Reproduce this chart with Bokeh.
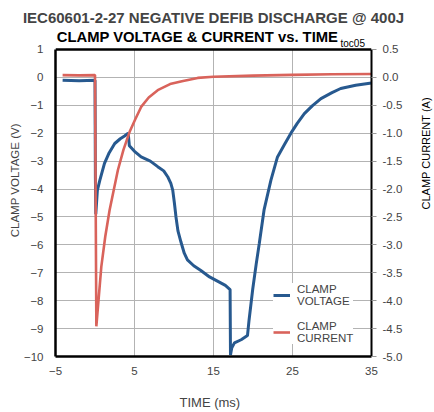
import math
from bokeh.plotting import figure
from bokeh.layouts import row
from bokeh.models import (Range1d, LinearAxis, Label, Legend, LegendItem, FixedTicker,
                          Span, BoxAnnotation)
from bokeh.embed import file_html
from bokeh.resources import INLINE

# ---- data ----
time_v = [-4.1, -2.0, 0.0, 0.05, 0.1, 0.3, 0.6, 1.2, 1.8, 2.5, 3.2, 3.74, 4.2, 4.35,
          5.0, 5.84, 7.0, 7.94, 8.7, 9.2, 9.6, 9.84, 10.05, 10.25, 10.5, 10.88, 11.3,
          11.7, 12.5, 13.4, 14.5, 15.5, 16.5, 17.1, 17.15, 17.3, 17.65, 18.5, 19.3,
          19.5, 19.96, 20.4, 20.8, 21.4, 22.27, 23.1, 24.0, 24.8, 25.6, 26.5, 27.5,
          28.6, 30.0, 31.1, 33.0, 35.0]
clamp_voltage = [-0.1, -0.12, -0.1, -3.6, -4.9, -4.05, -3.7, -3.08, -2.7, -2.37, -2.2,
                 -2.1, -2.0, -2.45, -2.65, -2.85, -3.0, -3.2, -3.35, -3.56, -3.8, -4.04,
                 -4.5, -5.0, -5.5, -5.9, -6.3, -6.54, -6.75, -6.92, -7.15, -7.3, -7.45,
                 -7.6, -9.95, -9.7, -9.51, -9.4, -9.25, -8.7, -7.6, -6.7, -5.94, -4.75,
                 -3.68, -2.85, -2.4, -2.0, -1.65, -1.3, -1.02, -0.76, -0.55, -0.4,
                 -0.28, -0.2]

time_i = [-4.1, -2.0, 0.0, 0.17, 0.8, 1.3, 1.85, 2.4, 2.9, 3.6, 4.37, 5.1, 5.84, 6.8,
          7.94, 9.5, 11.0, 13.0, 15.0, 20.0, 25.0, 30.0, 35.0]
clamp_current = [0.04, 0.035, 0.04, -4.46, -3.39, -2.85, -2.375, -2.0, -1.66, -1.3,
                 -0.98, -0.75, -0.53, -0.36, -0.23, -0.12, -0.07, -0.01, 0.01, 0.03,
                 0.045, 0.055, 0.06]

x_ticks = [-5, 5, 15, 25, 35]
v_ticks = [1, 0, -1, -2, -3, -4, -5, -6, -7, -8, -9, -10]
i_ticks = [0.5, 0.0, -0.5, -1.0, -1.5, -2.0, -2.5, -3.0, -3.5, -4.0, -4.5, -5.0]

BLUE = "#27598f"
RED = "#d9635b"
FONT = "Liberation Sans"
NB = "\u00a0"

# layout: frame spans page y 26..357; the value axes occupy 49..357 (28 px per volt)
V_TOP, V_BOT = v_ticks[0], v_ticks[-1]
I_TOP, I_BOT = i_ticks[0], i_ticks[-1]
head = 23.0 / 308.0  # extra headroom (fraction of axis span) for the title area

p_main = figure(width=415, height=412, output_backend="svg", toolbar_location=None,
                x_range=Range1d(x_ticks[0], x_ticks[-1]),
                y_range=Range1d(V_BOT, V_TOP + (V_TOP - V_BOT) * head),
                min_border_left=55, min_border_right=44, min_border_top=26,
                min_border_bottom=55)
p_main.extra_y_ranges = {"cur": Range1d(I_BOT, I_TOP + (I_TOP - I_BOT) * head)}

p_main.outline_line_color = None
p_main.background_fill_color = "white"
p_main.border_fill_color = "white"

p_main.title.text = "IEC60601-2-27 NEGATIVE DEFIB DISCHARGE @ 400J"
p_main.title.align = "center"
p_main.title.text_font = FONT
p_main.title.text_font_size = "15px"
p_main.title.text_font_style = "bold"
p_main.title.standoff = 2

xa = p_main.xaxis[0]
xa.ticker = FixedTicker(ticks=x_ticks)
xa.axis_line_color = "black"
xa.axis_line_width = 2.5
xa.major_tick_line_color = None
xa.major_tick_out = 0
xa.major_tick_in = 0
xa.minor_tick_line_color = None
xa.major_label_text_font = FONT
xa.major_label_text_font_size = "11.5px"
xa.major_label_standoff = 10
xa.axis_label = "TIME (ms)" + NB * 2
xa.axis_label_text_font = FONT
xa.axis_label_text_font_size = "13px"
xa.axis_label_text_font_style = "normal"
xa.axis_label_standoff = 17

ya = p_main.yaxis[0]
ya.ticker = FixedTicker(ticks=v_ticks)
ya.bounds = (V_BOT, V_TOP)
ya.axis_line_color = "black"
ya.axis_line_width = 2.5
ya.major_tick_line_color = None
ya.major_tick_out = 0
ya.major_tick_in = 0
ya.minor_tick_line_color = None
ya.major_label_text_font = FONT
ya.major_label_text_font_size = "11.5px"
ya.major_label_standoff = 12
ya.axis_label = NB * 7 + "CLAMP VOLTAGE (V)"
ya.axis_label_text_font = FONT
ya.axis_label_text_font_size = "11.5px"
ya.axis_label_text_font_style = "normal"
ya.axis_label_standoff = 0

rax = LinearAxis(y_range_name="cur", ticker=FixedTicker(ticks=i_ticks))
rax.bounds = (I_BOT, I_TOP)
rax.axis_line_color = "black"
rax.axis_line_width = 2
rax.minor_tick_line_color = None
rax.major_tick_line_color = "#999999"
rax.major_tick_in = 0
rax.major_tick_out = 5
rax.major_label_text_font = FONT
rax.major_label_text_font_size = "11.5px"
rax.major_label_standoff = 6
rax.major_label_overrides = {t: f"{t:.1f}" for t in i_ticks}
p_main.add_layout(rax, "right")

p_main.xgrid.ticker = FixedTicker(ticks=x_ticks[1:-1])
p_main.xgrid.grid_line_color = "#b3b3b3"
p_main.ygrid.grid_line_color = "#b3b3b3"
p_main.ygrid.ticker = FixedTicker(ticks=v_ticks[1:-1])
try:
    p_main.xgrid.cross_bounds = (V_BOT, V_TOP)
    need_box = False
except Exception:
    need_box = True

r_i = p_main.line(time_i, clamp_current, y_range_name="cur", line_color=RED, line_width=2.6)
r_v = p_main.line(time_v, clamp_voltage, line_color=BLUE, line_width=3)
p_main.renderers = [r_v, r_i]

if need_box:
    p_main.add_layout(BoxAnnotation(bottom=V_TOP, fill_color="white", fill_alpha=1,
                                    line_color=None))
p_main.add_layout(Span(location=V_TOP, dimension="width", line_color="black",
                       line_width=2.5))

legend = Legend(items=[LegendItem(label="CLAMP\nVOLTAGE", renderers=[r_v]),
                       LegendItem(label="CLAMP\nCURRENT", renderers=[r_i])],
                location=(218, 12), border_line_color=None, background_fill_alpha=1,
                label_text_font=FONT, label_text_font_size="11.5px",
                glyph_width=17, spacing=13,
                padding=6, margin=0, label_standoff=7)
p_main.add_layout(legend, "center")

def lab(fig, text, x, y, size, style="normal", align="center", angle=0.0):
    fig.add_layout(Label(x=x, y=y, x_units="screen", y_units="screen", text=text,
                         text_font=FONT, text_font_size=size, text_font_style=style,
                         text_align=align, text_baseline="middle", angle=angle,
                         text_color="black"))

lab(p_main, "CLAMP VOLTAGE & CURRENT vs. TIME", 142, 319.5, "14.8px", style="bold")
lab(p_main, "toc05", 285, 313, "10px", align="left")

# narrow strip on the right that carries the current-axis title
p_side = figure(width=19, height=412, output_backend="svg", toolbar_location=None,
                x_axis_type=None, y_axis_type=None, min_border=0,
                x_range=Range1d(0, 1), y_range=Range1d(0, 1))
p_side.outline_line_color = None
p_side.background_fill_color = "white"
p_side.border_fill_color = "white"
p_side.grid.visible = False
lab(p_side, "CLAMP CURRENT (A)", 10, 147, "11px", align="left", angle=math.pi / 2)

p = row(p_main, p_side, spacing=0)

open("out.html", "w").write(file_html(p, INLINE))
